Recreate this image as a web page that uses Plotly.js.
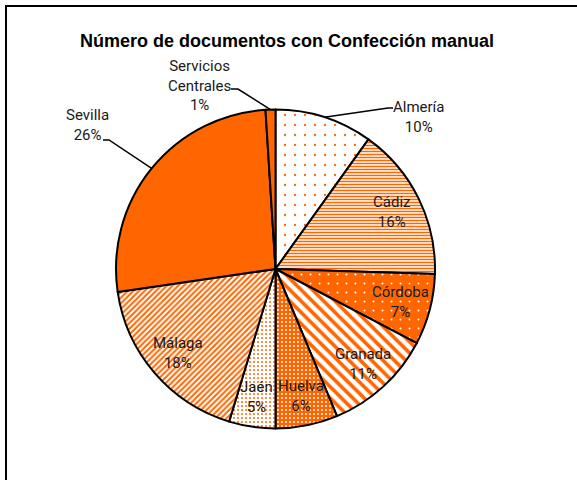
<!DOCTYPE html>
<html><head><meta charset="utf-8">
<script src="https://cdn.plot.ly/plotly-3.0.1.min.js"></script>
<style>html,body{margin:0;padding:0;background:#fff}#chart{width:577px;height:480px}</style>
</head><body><div id="chart"></div>
<script>
// ---- data ----
const categories = ['Almería','Cádiz','Córdoba','Granada','Huelva','Jaén','Málaga','Sevilla','Servicios<br>Centrales'];
const values = [9.9, 15.6, 7.2, 11.0, 6.3, 4.7, 18.0, 26.3, 1.0];
const titleText = 'Número de documentos con Confección manual';

// ---- styles ----
const ORANGE = '#FF6600';
const patShape = ['.', '-', '.', '\\', '.', '.', '/', '', ''];
const patFg    = [ORANGE, ORANGE, '#ffffff', ORANGE, '#ffffff', ORANGE, ORANGE, ORANGE, ORANGE];
const patBg    = ['#ffffff', '#ffffff', ORANGE, '#ffffff', ORANGE, '#ffffff', '#ffffff', ORANGE, ORANGE];
const patSize  = [10, 3, 9, 8, 4, 4, 4, 8, 8];
const patSolid = [0.04, 0.5, 0.04, 0.45, 0.2, 0.2, 0.5, 0.5, 0.5];

const W = 577, H = 480;
const cx = 275.5, cy = 269, R = 159.5;
const px = x => x / W, py = y => 1 - y / H;
const FONT = 'Roboto, "Liberation Sans", Arial, sans-serif';

const total = values.reduce((a, b) => a + b, 0);
const pctText = v => Math.round(v / total * 100) + '%';

// outside label placement (label box centre, elbow, end of leader)
const outside = {
  0: {tx: 419, ty: 117, elbow: [388, 108], end: [393, 108]},
  7: {tx: 87,  ty: 125, elbow: [109, 140], end: [103, 140]},
  8: {tx: 199, ty: 85,  elbow: [238, 89],  end: [231, 89]}
};

const annotations = [];
const shapes = [];
let cum = 0;
values.forEach((v, i) => {
  const mid = (cum + v / 2) / total * 2 * Math.PI;
  cum += v;
  const text = categories[i] + '<br>' + pctText(v);
  if (outside[i]) {
    const o = outside[i];
    annotations.push({x: px(o.tx), y: py(o.ty), xref: 'paper', yref: 'paper', text: text,
      showarrow: false, xanchor: 'center', yanchor: 'middle', align: 'center',
      font: {family: FONT, size: 15, color: '#1a1a1a'}});
    const sx = cx + R * Math.sin(mid), sy = cy - R * Math.cos(mid);
    shapes.push({type: 'path', xref: 'paper', yref: 'paper',
      path: `M ${px(sx)} ${py(sy)} L ${px(o.elbow[0])} ${py(o.elbow[1])} L ${px(o.end[0])} ${py(o.end[1])}`,
      line: {color: '#000', width: 1.5}});
  } else {
    const r = 0.81 * R;
    const lx = cx + r * Math.sin(mid), ly = cy - r * Math.cos(mid);
    annotations.push({x: px(lx), y: py(ly), xref: 'paper', yref: 'paper', text: text,
      showarrow: false, xanchor: 'center', yanchor: 'middle', align: 'center',
      font: {family: FONT, size: 15, color: '#1a1a1a'}});
  }
});

// frame
shapes.push({type: 'path', xref: 'paper', yref: 'paper',
  path: `M ${px(6)} ${py(490)} L ${px(6)} ${py(6)} L ${px(590)} ${py(6)}`,
  line: {color: '#000', width: 2}});

const trace = {
  type: 'pie',
  labels: categories,
  values: values,
  sort: false,
  direction: 'clockwise',
  rotation: 0,
  textinfo: 'none',
  hoverinfo: 'label+percent',
  showlegend: false,
  domain: {x: [px(cx - R), px(cx + R)], y: [py(cy + R), py(cy - R)]},
  marker: {
    colors: values.map(() => ORANGE),
    line: {color: '#000', width: 2},
    pattern: {shape: patShape, fgcolor: patFg, bgcolor: patBg, size: patSize, solidity: patSolid, fillmode: 'replace'}
  }
};

const layout = {
  width: W, height: H,
  margin: {l: 0, r: 0, t: 0, b: 0},
  paper_bgcolor: '#fff', plot_bgcolor: '#fff',
  title: {text: '<b>' + titleText + '</b>', x: px(287), xanchor: 'center', xref: 'paper',
          y: py(41), yanchor: 'middle', yref: 'paper',
          font: {family: '"Liberation Sans", Arial, sans-serif', size: 18, color: '#000'}},
  annotations: annotations,
  shapes: shapes
};

Plotly.newPlot('chart', [trace], layout, {staticPlot: true});
</script>
</body></html>
